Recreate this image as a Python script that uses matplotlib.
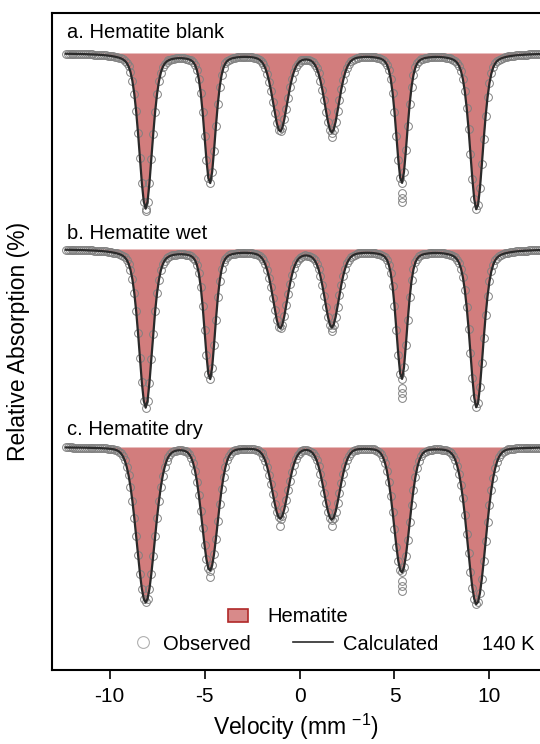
import numpy as np
import matplotlib.pyplot as plt
from matplotlib.patches import Patch
from matplotlib.lines import Line2D

plt.rcParams['font.family'] = ['Liberation Sans', 'DejaVu Sans']
plt.rcParams['axes.unicode_minus'] = False

# Channel velocities (mm/s)
velocity = np.linspace(-12.3, 13.0, 254)

# Hematite sextet line positions (mm/s)
line_pos = [-8.10, -4.72, -1.02, 1.70, 5.38, 9.32]

# Line depths (%) and full widths (mm/s) for each spectrum
depth_blank = [15.5, 12.9, 7.7, 7.8, 12.9, 15.6]
depth_wet = [15.8, 12.9, 7.8, 7.7, 12.9, 15.8]
depth_dry = [15.5, 12.3, 7.1, 7.2, 12.5, 15.7]
width_blank = [0.82, 0.70, 0.92, 0.92, 0.70, 0.82]
width_wet = [0.84, 0.68, 0.92, 0.92, 0.68, 0.84]
width_dry = [1.12, 0.98, 0.98, 0.98, 0.98, 1.12]
lorentz_frac = [0.35, 0.35, 0.12]

# Vertical offsets of the three spectra (%)
offsets = [0.0, -19.6, -39.4]
titles = ['a. Hematite blank', 'b. Hematite wet', 'c. Hematite dry']

# Observed points lying off the fit at the line minima (velocity, depth %)
extra_v_blank = [-8.10, 1.70, 5.38, 5.38, 5.38]
extra_d_blank = [15.8, 8.4, 14.0, 14.5, 14.9]
extra_v_wet = [1.70, 5.38, 5.38, 5.38]
extra_d_wet = [8.2, 13.9, 14.4, 14.9]
extra_v_dry = [-4.72, -1.02, 1.70, 5.38, 5.38, 5.38]
extra_d_dry = [13.0, 7.9, 7.9, 13.4, 13.9, 14.4]

depths = [depth_blank, depth_wet, depth_dry]
widths = [width_blank, width_wet, width_dry]
extra_v = [extra_v_blank, extra_v_wet, extra_v_dry]
extra_d = [extra_d_blank, extra_d_wet, extra_d_dry]


def sextet(v, depth, width, eta):
    out = np.zeros_like(v)
    for p, d, w in zip(line_pos, depth, width):
        hw = w / 2
        lor = 1 / (1 + ((v - p) / hw) ** 2)
        gau = np.exp(-np.log(2) * ((v - p) / hw) ** 2)
        out += d * (eta * lor + (1 - eta) * gau)
    return out


fill_color = '#d27d7d'
fig = plt.figure(figsize=(5.4, 7.44), dpi=100)
ax = fig.add_axes([52 / 540, 74 / 744, 488 / 540, 657 / 744])

for k in range(3):
    base = offsets[k]
    calc = base - sextet(velocity, depths[k], widths[k], lorentz_frac[k])
    ax.fill_between(velocity, base, calc, color=fill_color, lw=0, zorder=1)
    ax.plot(velocity, calc, 'o', mfc='none', mec='#808080', ms=5.6, mew=0.7, zorder=2)
    ax.plot(extra_v[k], base - np.array(extra_d[k]), 'o', mfc='none', mec='#808080',
            ms=5.6, mew=0.7, zorder=2)
    ax.plot(velocity, calc, color='#2a2a2a', lw=1.6, zorder=3)
    ax.text(-12.25, base + [1.5, 1.0, 1.2][k], titles[k], fontsize=14.5, va='baseline')

ax.set_xlim(-13.03, 12.66)
ax.set_ylim(-61.7, 4.0)
ax.set_xticks([-10, -5, 0, 5, 10])
ax.set_yticks([])
ax.spines['right'].set_visible(False)
for s in ['left', 'top', 'bottom']:
    ax.spines[s].set_linewidth(1.5)
ax.tick_params(axis='x', direction='out', length=6.5, width=1.2, labelsize=15, pad=6)
ax.set_xlabel(r'Velocity (mm $^{\mathregular{-1}}$)', fontsize=16.5, labelpad=4)
ax.set_ylabel('Relative Absorption (%)', fontsize=16.5, labelpad=16)

# Legends
leg1 = fig.legend(handles=[Patch(facecolor='#d88a8a', edgecolor='#b02828', lw=1.2)],
                  labels=['Hematite'], loc='center left',
                  bbox_to_anchor=(228 / 540, 1 - 617 / 744), frameon=False,
                  borderpad=0, borderaxespad=0, handlelength=1.0, handleheight=0.6,
                  handletextpad=0.95, fontsize=14.5)
leg2 = fig.legend(handles=[Line2D([], [], ls='none', marker='o', mfc='none',
                                  mec='#b0b0b0', ms=8.5, mew=0.8)],
                  labels=['Observed'], loc='center left',
                  bbox_to_anchor=(133 / 540, 1 - 644 / 744), frameon=False,
                  borderpad=0, borderaxespad=0, handlelength=1.0,
                  handletextpad=0.5, fontsize=14.5)
leg3 = fig.legend(handles=[Line2D([], [], color='#2a2a2a', lw=1.2)],
                  labels=['Calculated'], loc='center left',
                  bbox_to_anchor=(293 / 540, 1 - 644 / 744), frameon=False,
                  borderpad=0, borderaxespad=0, handlelength=2.0,
                  handletextpad=0.5, fontsize=14.5)
fig.text(482 / 540, 1 - 644 / 744, '140 K', fontsize=14.5, va='center', ha='left')

fig.savefig('out.png', dpi=100)
